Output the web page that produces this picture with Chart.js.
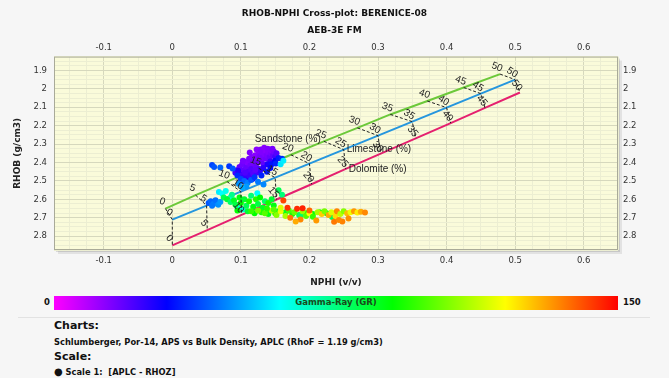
<!DOCTYPE html>
<html>
<head>
<meta charset="utf-8">
<script src="https://cdn.jsdelivr.net/npm/chart.js@4.4.0/dist/chart.umd.min.js"></script>
<style>
  body { margin: 0; background: #f6f6f6; width: 669px; height: 378px; overflow: hidden; position: relative;
         font-family: "DejaVu Sans", Verdana, sans-serif; color: #111; }
  #wrap { position: absolute; left: 0; top: 0; width: 669px; height: 290px; }
  #grbar { position: absolute; left: 54px; top: 296px; width: 564px; height: 14px;
           background: linear-gradient(to right, #ff00ff 0%, #0000ff 20%, #00ffff 40%, #00ff00 60%, #ffff00 80%, #ff0000 100%); }
  #grbar span { position: absolute; left: 0; right: 0; top: 1px; text-align: center; font-size: 8.5px; font-weight: bold; color: #1a4a1a; }
  .barlbl { position: absolute; top: 297px; font-size: 8.5px; font-weight: bold; }
  #sep { position: absolute; left: 18px; width: 632px; top: 317px; height: 1px; background: #e2e2e2; }
  .note { position: absolute; left: 54px; font-weight: bold; white-space: nowrap; }
  .h { font-size: 11px; }
  .s { font-size: 8.3px; }
  .dot { font-size: 10px; }
</style>
</head>
<body>
<div id="wrap"><canvas id="xplot"></canvas></div>
<div id="grbar"><span>Gamma-Ray (GR)</span></div>
<div class="barlbl" style="left:44px">0</div>
<div class="barlbl" style="left:623px">150</div>
<div id="sep"></div>
<div class="note h" style="top:319px">Charts:</div>
<div class="note s" style="top:337px">Schlumberger, Por-14, APS vs Bulk Density, APLC (RhoF = 1.19 g/cm3)</div>
<div class="note h" style="top:350px">Scale:</div>
<div class="note s" style="top:366px"><span class="dot">&#9679;</span> Scale 1:&nbsp; [APLC - RHOZ]</div>
<script>
// axis ranges
const nphiMin = -0.1725, nphiMax = 0.65;
const rhobMin = 1.825, rhobMax = 2.875;

// porosity chart lines (Por-14, APLC vs RHOZ)
const porosity = [0, 5, 10, 15, 20, 25, 30, 35, 40, 45, 50];
const sandNphi = [-0.010, 0.034, 0.080, 0.126, 0.173, 0.221, 0.270, 0.318, 0.372, 0.425, 0.478];
const sandRhob = [2.650, 2.577, 2.504, 2.431, 2.358, 2.285, 2.212, 2.139, 2.066, 1.993, 1.920];
const limeNphi = [0.000, 0.050, 0.100, 0.150, 0.200, 0.250, 0.300, 0.350, 0.400, 0.450, 0.500];
const limeRhob = [2.710, 2.634, 2.558, 2.482, 2.406, 2.330, 2.254, 2.178, 2.102, 2.026, 1.950];
const doloNphi = [0.000, 0.051, 0.101, 0.152, 0.203, 0.253, 0.304, 0.355, 0.406, 0.456, 0.507];
const doloRhob = [2.850, 2.767, 2.684, 2.601, 2.518, 2.435, 2.352, 2.269, 2.186, 2.103, 2.020];

// well samples
const wellNphi = [
  0.092, 0.095, 0.098, 0.100, 0.102, 0.104, 0.105, 0.107, 0.108, 0.110, 0.111, 0.112, 0.114, 0.115,
  0.116, 0.118, 0.119, 0.120, 0.121, 0.122, 0.124, 0.125, 0.126, 0.127, 0.128, 0.130, 0.131, 0.132,
  0.133, 0.135, 0.136, 0.137, 0.138, 0.140, 0.141, 0.142, 0.144, 0.145, 0.147, 0.148, 0.150, 0.143,
  0.117, 0.109, 0.103, 0.113, 0.123, 0.129, 0.134, 0.139, 0.146, 0.152,
  0.098, 0.104, 0.112, 0.118, 0.123, 0.128, 0.096, 0.101, 0.106, 0.133, 0.139, 0.121,
  0.058, 0.061, 0.070, 0.083, 0.088, 0.095, 0.100, 0.105, 0.110, 0.115, 0.120, 0.125, 0.130, 0.133,
  0.138, 0.145, 0.150, 0.155, 0.160, 0.097, 0.108, 0.102, 0.143, 0.151,
  0.053, 0.056, 0.060, 0.063, 0.067, 0.070, 0.058,
  0.068, 0.073, 0.078, 0.124, 0.095, 0.103, 0.085, 0.158, 0.162,
  0.075, 0.080, 0.085, 0.090, 0.092, 0.098, 0.100, 0.105, 0.108, 0.112, 0.115, 0.118, 0.122, 0.125,
  0.128, 0.132, 0.135, 0.140, 0.145, 0.148, 0.155, 0.155, 0.160, 0.087, 0.095, 0.110, 0.120, 0.130,
  0.140, 0.150, 0.165, 0.175, 0.185, 0.195, 0.205, 0.215, 0.225, 0.233, 0.187, 0.170,
  0.115, 0.125, 0.135, 0.145, 0.152, 0.158, 0.162, 0.165, 0.172, 0.178, 0.182, 0.187, 0.190, 0.195,
  0.200, 0.200, 0.205, 0.210, 0.212, 0.218, 0.222, 0.228, 0.232, 0.238, 0.240, 0.245, 0.248, 0.250,
  0.255, 0.257, 0.260, 0.265, 0.270, 0.275, 0.281, 0.236, 0.243, 0.180, 0.168, 0.190, 0.158, 0.148,
  0.138
];
const wellRhob = [
  2.455, 2.440, 2.425, 2.460, 2.410, 2.440, 2.395, 2.470, 2.425, 2.400, 2.450, 2.380, 2.415, 2.435,
  2.370, 2.400, 2.455, 2.385, 2.360, 2.420, 2.375, 2.400, 2.350, 2.435, 2.365, 2.390, 2.345, 2.375,
  2.410, 2.355, 2.335, 2.380, 2.360, 2.345, 2.330, 2.370, 2.350, 2.335, 2.360, 2.340, 2.370, 2.395,
  2.490, 2.485, 2.390, 2.345, 2.330, 2.330, 2.320, 2.325, 2.325, 2.350,
  2.470, 2.480, 2.470, 2.460, 2.455, 2.445, 2.445, 2.500, 2.455, 2.430, 2.410, 2.440,
  2.414, 2.424, 2.427, 2.420, 2.433, 2.470, 2.490, 2.500, 2.510, 2.495, 2.480, 2.505, 2.470, 2.520,
  2.450, 2.410, 2.390, 2.375, 2.380, 2.515, 2.530, 2.535, 2.430, 2.405,
  2.620, 2.610, 2.625, 2.605, 2.630, 2.615, 2.635,
  2.560, 2.569, 2.555, 2.567, 2.645, 2.655, 2.590, 2.410, 2.390,
  2.590, 2.600, 2.615, 2.605, 2.630, 2.590, 2.620, 2.600, 2.635, 2.610, 2.580, 2.640, 2.600, 2.625,
  2.590, 2.645, 2.610, 2.620, 2.600, 2.633, 2.550, 2.665, 2.575, 2.575, 2.660, 2.665, 2.675, 2.670,
  2.680, 2.675, 2.670, 2.680, 2.685, 2.675, 2.680, 2.670, 2.675, 2.696, 2.687, 2.660,
  2.665, 2.660, 2.675, 2.660, 2.685, 2.665, 2.606, 2.690, 2.700, 2.670, 2.651, 2.710, 2.665, 2.690,
  2.676, 2.660, 2.695, 2.715, 2.670, 2.680, 2.665, 2.685, 2.670, 2.690, 2.665, 2.680, 2.720, 2.665,
  2.675, 2.704, 2.670, 2.665, 2.672, 2.668, 2.672, 2.722, 2.712, 2.720, 2.645, 2.648, 2.645, 2.655,
  2.650
];
const wellGr = [
  22, 20, 18, 24, 17, 19, 16, 25, 18, 15, 21, 16, 17, 20,
  15, 16, 23, 17, 14, 18, 15, 17, 14, 21, 16, 18, 15, 16,
  19, 15, 14, 17, 16, 15, 14, 18, 16, 15, 19, 17, 22, 24,
  26, 27, 16, 15, 14, 15, 14, 15, 16, 20,
  22, 24, 23, 20, 22, 24, 26, 28, 21, 25, 27, 19,
  38, 40, 42, 36, 40, 35, 38, 42, 45, 40, 36, 44, 34, 46,
  33, 32, 30, 33, 35, 47, 48, 50, 31, 34,
  40, 42, 45, 43, 47, 48, 44,
  58, 60, 62, 60, 62, 65, 64, 57, 58,
  80, 84, 78, 86, 82, 88, 90, 85, 80, 92, 76, 88, 94, 82,
  90, 86, 78, 92, 84, 88, 80, 85, 76, 74, 90, 84, 90, 94,
  88, 96, 86, 92, 82, 90, 88, 94, 86, 80, 78, 98,
  96, 104, 100, 112, 106, 118, 142, 110, 136, 102, 145, 134, 108, 100,
  120, 138, 96, 132, 110, 126, 104, 130, 116, 124, 134, 112, 135, 106,
  128, 133, 118, 132, 122, 130, 134, 136, 134, 130, 144, 146, 116, 100,
  94
];

// GR colour scale 0..150
const grMax = 150;
const grStops = [[0, [255, 0, 255]], [0.2, [0, 0, 255]], [0.4, [0, 255, 255]],
                 [0.6, [0, 255, 0]], [0.8, [255, 255, 0]], [1, [255, 0, 0]]];

function grColor(gr) {
    const f = Math.max(0, Math.min(1, gr / grMax));
    for (let i = 1; i < grStops.length; i++) {
        if (f <= grStops[i][0]) {
            const [f0, c0] = grStops[i - 1];
            const [f1, c1] = grStops[i];
            const t = (f - f0) / (f1 - f0);
            const c = c0.map((v, k) => Math.round(v + (c1[k] - v) * t));
            return `rgb(${c[0]},${c[1]},${c[2]})`;
        }
    }
    return 'rgb(255,0,0)';
}

function isMajor(v) {
    return Math.abs(v * 10 - Math.round(v * 10)) < 1e-6;
}

function tickLabel(v) {
    return isMajor(v) ? String(Math.round(v * 10) / 10) : '';
}

const tickFont = { family: 'DejaVu Sans', size: 8.5 };
const titleFont = { family: 'DejaVu Sans', size: 9, weight: 'bold' };

function gridColor(ctx) {
    return isMajor(ctx.tick.value) ? '#d6d8bd' : '#eceed2';
}

// plot background, shadow, frame
const frame = {
    id: 'frame',
    beforeDraw(chart) {
        const { ctx, chartArea: a } = chart;
        ctx.save();
        ctx.fillStyle = 'rgba(0,0,0,0.08)';
        ctx.fillRect(a.left + 4, a.top + 4, a.right - a.left, a.bottom - a.top);
        ctx.fillStyle = 'rgba(0,0,0,0.12)';
        ctx.fillRect(a.left + 2, a.top + 2, a.right - a.left, a.bottom - a.top);
        ctx.fillStyle = '#fafbda';
        ctx.fillRect(a.left, a.top, a.right - a.left, a.bottom - a.top);
        ctx.restore();
    },
    afterDraw(chart) {
        const { ctx, chartArea: a } = chart;
        ctx.save();
        ctx.strokeStyle = '#a9aa98';
        ctx.lineWidth = 1;
        ctx.strokeRect(a.left + 0.5, a.top + 0.5, a.right - a.left - 1, a.bottom - a.top - 1);
        ctx.restore();
    }
};

// porosity connectors and labels
const porLabels = {
    id: 'porLabels',
    afterDatasetsDraw(chart) {
        const { ctx } = chart;
        const xs = chart.scales.x, ys = chart.scales.y;
        const px = v => xs.getPixelForValue(v), py = v => ys.getPixelForValue(v);
        ctx.save();
        ctx.strokeStyle = '#222';
        ctx.lineWidth = 1;
        ctx.setLineDash([3, 2]);
        porosity.forEach((p, i) => {
            ctx.beginPath();
            ctx.moveTo(px(sandNphi[i]), py(sandRhob[i]));
            ctx.lineTo(px(limeNphi[i]), py(limeRhob[i]));
            ctx.lineTo(px(doloNphi[i]), py(doloRhob[i]));
            ctx.stroke();
        });
        ctx.setLineDash([]);
        ctx.fillStyle = '#222';
        ctx.font = '10px "Liberation Sans", Arial, sans-serif';
        ctx.textAlign = 'center';
        ctx.textBaseline = 'middle';
        const sets = [[sandNphi, sandRhob, 20], [limeNphi, limeRhob, 32], [doloNphi, doloRhob, 50]];
        sets.forEach(([nx, ry, rot]) => {
            porosity.forEach((p, i) => {
                ctx.save();
                ctx.translate(px(nx[i]) - 3, py(ry[i]) - 7);
                ctx.rotate(rot * Math.PI / 180);
                ctx.fillText(String(p), 0, 0);
                ctx.restore();
            });
        });
        ctx.textBaseline = 'middle';
        ctx.textAlign = 'right';
        ctx.fillText('Sandstone (%)', px(sandNphi[5]) - 3, py(sandRhob[5]) - 2);
        ctx.textAlign = 'left';
        ctx.fillText('Limestone (%)', px(limeNphi[5]) + 3, py(limeRhob[5]));
        ctx.fillText('Dolomite (%)', px(doloNphi[5]) + 3, py(doloRhob[5]));
        ctx.restore();
    }
};

function xScale(position, withGrid) {
    return {
        type: 'linear',
        position: position,
        min: nphiMin,
        max: nphiMax,
        afterFit: s => { s.height = position === 'top' ? 21 : 40; },
        grid: { display: withGrid, color: gridColor, drawTicks: false },
        border: { display: false },
        ticks: {
            stepSize: 0.025, includeBounds: false, autoSkip: false, maxRotation: 0,
            padding: position === 'top' ? 4 : 6,
            color: '#333', font: tickFont, callback: tickLabel
        },
        title: {
            display: position === 'bottom', text: 'NPHI (v/v)', color: '#222',
            font: titleFont, padding: { top: 0, bottom: 2 }
        }
    };
}

function yScale(position, withGrid) {
    return {
        type: 'linear',
        position: position,
        reverse: true,
        min: rhobMin,
        max: rhobMax,
        afterFit: s => { s.width = position === 'left' ? 54 : 51; },
        grid: { display: withGrid, color: gridColor, drawTicks: false },
        border: { display: false },
        ticks: {
            stepSize: 0.025, includeBounds: false, autoSkip: false,
            padding: position === 'left' ? 7 : 5,
            color: '#333', font: tickFont, callback: tickLabel
        },
        title: {
            display: position === 'left', text: 'RHOB (g/cm3)', color: '#222',
            font: titleFont, padding: { top: 12, bottom: 0 }
        }
    };
}

const lithoLine = (label, xs, ys, color) => ({
    type: 'line',
    label: label,
    data: xs.map((x, i) => ({ x: x, y: ys[i] })),
    borderColor: color,
    borderWidth: 2,
    pointRadius: 0,
    fill: false,
    tension: 0
});

new Chart(document.getElementById('xplot'), {
    type: 'scatter',
    data: {
        datasets: [
            {
                label: 'APLC - RHOZ',
                data: wellNphi.map((x, i) => ({ x: x, y: wellRhob[i] })),
                pointBackgroundColor: wellGr.map(grColor),
                pointBorderWidth: 0,
                pointRadius: 3
            },
            lithoLine('Sandstone', sandNphi, sandRhob, '#6cc93a'),
            lithoLine('Limestone', limeNphi, limeRhob, '#2596de'),
            lithoLine('Dolomite', doloNphi, doloRhob, '#e5206f')
        ]
    },
    options: {
        responsive: true,
        maintainAspectRatio: false,
        animation: false,
        layout: { padding: 0 },
        plugins: {
            legend: { display: false },
            tooltip: { enabled: false },
            title: {
                display: true, text: 'RHOB-NPHI Cross-plot: BERENICE-08', color: '#111',
                font: titleFont, padding: { top: 8, bottom: 6 }
            },
            subtitle: {
                display: true, text: 'AEB-3E FM', color: '#111',
                font: titleFont, padding: { top: 0, bottom: 0 }
            }
        },
        scales: {
            x: xScale('bottom', true),
            x2: xScale('top', false),
            y: yScale('left', true),
            y2: yScale('right', false)
        }
    },
    plugins: [frame, porLabels]
});
</script>
</body>
</html>
